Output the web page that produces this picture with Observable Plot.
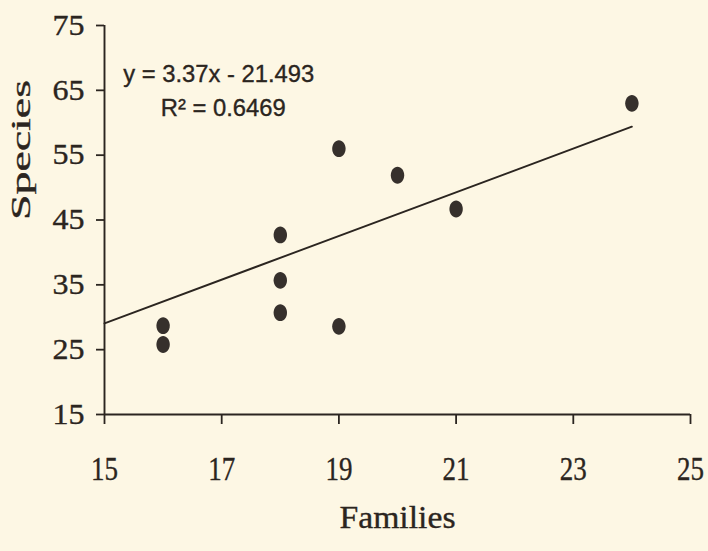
<!DOCTYPE html>
<html>
<head>
<meta charset="utf-8">
<script src="https://cdn.jsdelivr.net/npm/d3@7"></script>
<script src="https://cdn.jsdelivr.net/npm/@observablehq/plot@0.6"></script>
<style>
  html, body { margin: 0; padding: 0; background: #fdf7e4; }
  svg text { stroke: #2b2520; stroke-width: 0.35px; }
</style>
</head>
<body>
<div id="chart"></div>
<script>
const families = [16, 16, 18, 18, 18, 19, 19, 20, 21, 24];
const species = [28.7, 25.8, 42.7, 35.7, 30.7, 56.0, 28.6, 51.9, 46.7, 63.0];
const xTicks = [15, 17, 19, 21, 23, 25];
const yTicks = [15, 25, 35, 45, 55, 65, 75];
const slope = 3.37;
const intercept = -21.493;
const rSquared = 0.6469;
const fitRange = [15, 24];
const eqLabel = "y = 3.37x - 21.493";
const r2Label = "R² = 0.6469";

const ink = "#2b2520";
const dotColor = "#36302c";
const serif = "'Liberation Serif', 'DejaVu Serif', serif";
const sans = "'Liberation Sans', Arial, sans-serif";

const points = families.map((f, i) => ({ families: f, species: species[i] }));
const fit = fitRange.map(x => ({ x, y: slope * x + intercept }));

const ellipse = {
  draw(ctx) {
    const rx = 6.7, ry = 8.4, k = 0.5523;
    ctx.moveTo(rx, 0);
    ctx.bezierCurveTo(rx, k * ry, k * rx, ry, 0, ry);
    ctx.bezierCurveTo(-k * rx, ry, -rx, k * ry, -rx, 0);
    ctx.bezierCurveTo(-rx, -k * ry, -k * rx, -ry, 0, -ry);
    ctx.bezierCurveTo(k * rx, -ry, rx, -k * ry, rx, 0);
    ctx.closePath();
  }
};

const chart = Plot.plot({
  width: 708,
  height: 551,
  marginLeft: 104,
  marginRight: 18,
  marginTop: 25,
  marginBottom: 137,
  style: { background: "#fdf7e4", color: ink, overflow: "visible" },
  x: { domain: [15, 25] },
  y: { domain: [15, 75] },
  marks: [
    Plot.axisX({ ticks: xTicks, tickSize: 10, tickPadding: 32, fontSize: 33, fontFamily: serif, label: null, stroke: ink, strokeWidth: 1.8 }),
    Plot.axisY({ ticks: yTicks, tickSize: 8, tickPadding: 12, fontSize: 29, fontFamily: serif, label: null, stroke: ink, strokeWidth: 1.8 }),
    Plot.ruleX([15], { y1: 15, y2: 75, stroke: ink, strokeWidth: 1.9 }),
    Plot.ruleY([15], { x1: 15, x2: 25, stroke: ink, strokeWidth: 1.9 }),
    Plot.line(fit, { x: "x", y: "y", stroke: ink, strokeWidth: 1.9 }),
    Plot.dot(points, { x: "families", y: "species", symbol: ellipse, fill: dotColor, stroke: "none" }),
    Plot.text([eqLabel], { x: 15.32, y: 67.4, text: d => d, textAnchor: "start", fontFamily: sans, fontSize: 24, fill: ink, className: "eq1" }),
    Plot.text([r2Label], { x: 15.96, y: 62.15, text: d => d, textAnchor: "start", fontFamily: sans, fontSize: 24, fill: ink, className: "eq2" }),
    Plot.text(["Families"], { frameAnchor: "bottom", dy: 113, text: d => d, fontFamily: serif, fontSize: 32, fill: ink, className: "xlab" }),
    Plot.text(["Species"], { frameAnchor: "left", dx: -83.5, rotate: -90, text: d => d, fontFamily: serif, fontSize: 27, fill: ink, className: "ylab" })
  ]
});

document.getElementById("chart").appendChild(chart);

function stretch(selector, len) {
  chart.querySelectorAll(selector).forEach(t => {
    t.setAttribute("textLength", len);
    t.setAttribute("lengthAdjust", "spacingAndGlyphs");
  });
}
stretch('g[aria-label="x-axis tick label"] text', 27);
stretch('g[aria-label="y-axis tick label"] text', 32);
stretch('.eq1 text', 191);
stretch('.eq2 text', 125);
stretch('.xlab text', 116);
stretch('.ylab text', 140);
</script>
</body>
</html>
